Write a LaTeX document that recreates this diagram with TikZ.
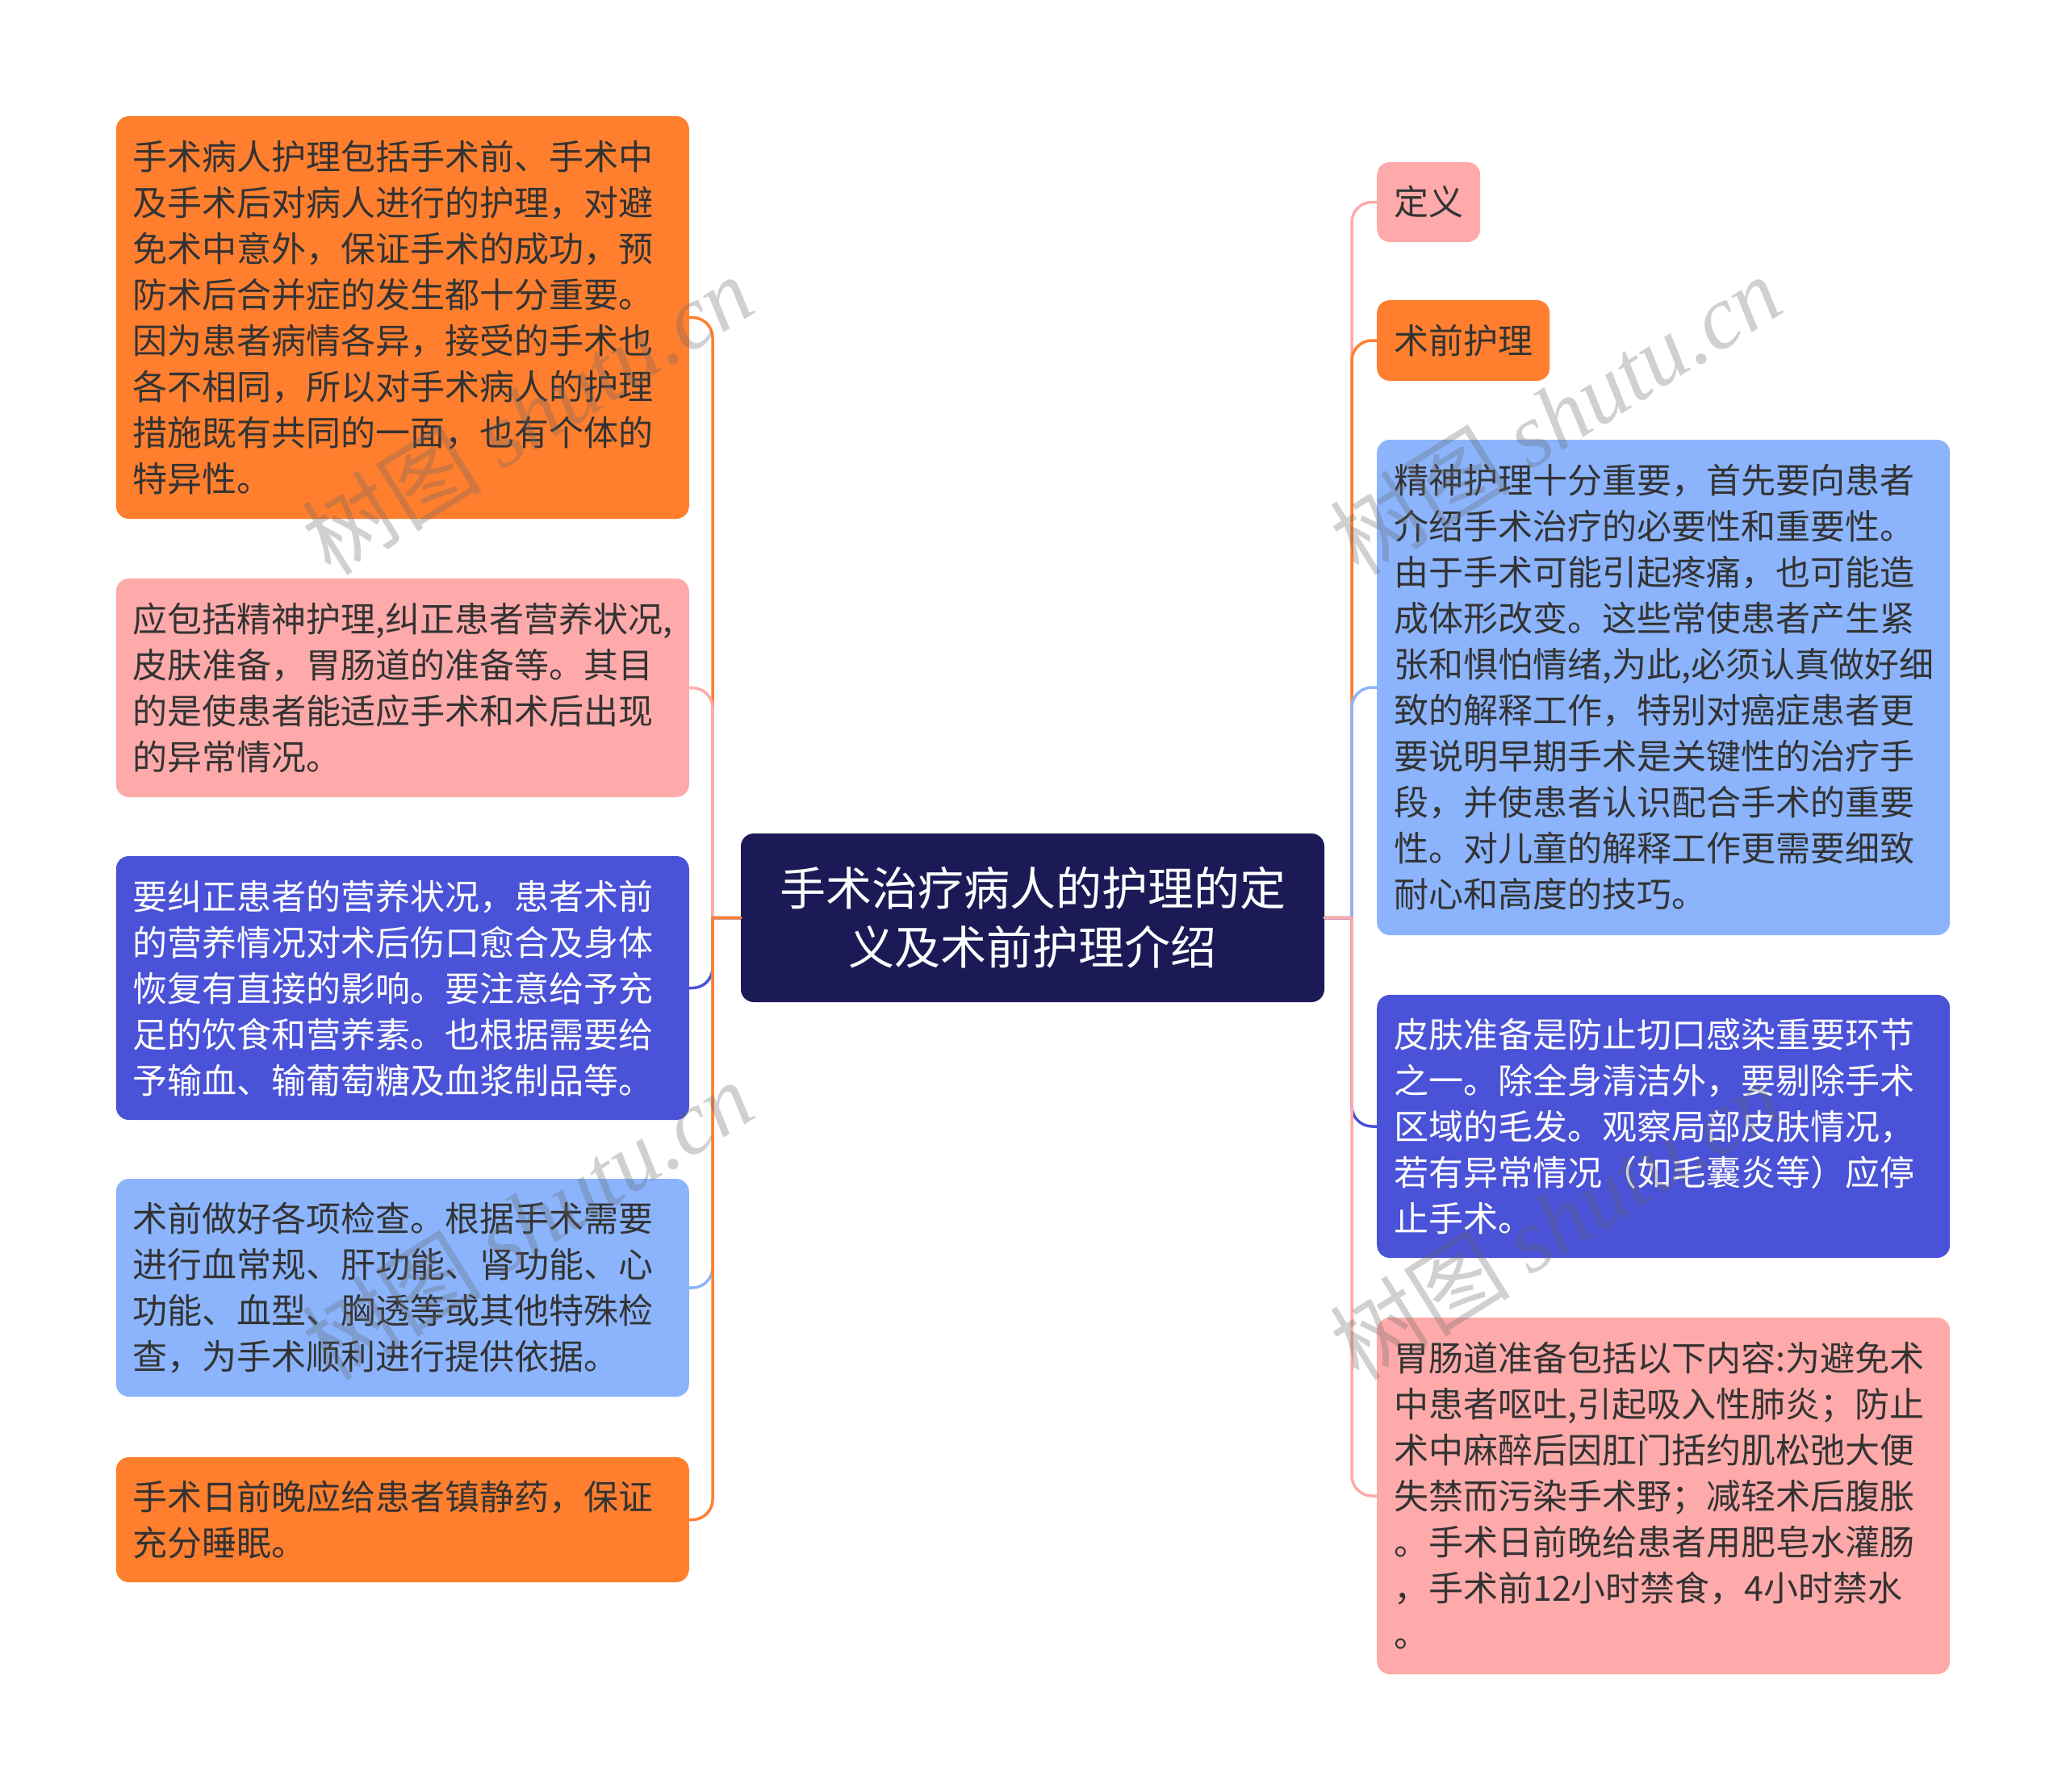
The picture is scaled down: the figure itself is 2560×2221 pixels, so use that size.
\documentclass[tikz,border=0pt]{standalone}
\usepackage{fontspec}
\setmainfont{Noto Sans CJK SC}
\newfontfamily\wmlatin{Liberation Serif}
\definecolor{cOrange}{HTML}{FF7F2F}
\definecolor{cPink}{HTML}{FFAAAA}
\definecolor{cPurple}{HTML}{4A52D8}
\definecolor{cLight}{HTML}{8BB4FC}
\definecolor{cNavy}{HTML}{1C1A56}
\definecolor{cText}{HTML}{333333}
\tikzset{
  leaf/.style={rounded corners=16pt, inner xsep=21pt, inner ysep=0pt, align=left,
    font=\fontsize{43pt}{57pt}\selectfont},
  lwidth/.style={text width=668pt, minimum height=#1},
  conn/.style={line width=3.5pt, line cap=round, rounded corners=25pt},
  wm/.style={text=black!60, text opacity=0.3, inner sep=0pt, rotate=32,
    font=\fontsize{112pt}{112pt}\selectfont}
}
\begin{document}
\begin{tikzpicture}[x=1pt,y=1pt]
\useasboundingbox (0,0) rectangle (2560,-2221);
\fill[white] (0,0) rectangle (2560,-2221);

% center
\node[rounded corners=16pt, fill=cNavy, text=white, align=center,
  minimum width=723pt, minimum height=209pt, inner sep=0pt,
  font=\fontsize{57pt}{73pt}\selectfont] (C) at (1279.5,-1137.5)
  {手术治疗病人的护理的定\\义及术前护理介绍};

% left nodes
\node[leaf, lwidth=499pt, fill=cOrange, text=cText, anchor=east] (L1) at (854,-393.5)
{手术病人护理包括手术前、手术中\\及手术后对病人进行的护理，对避\\免术中意外，保证手术的成功，预\\防术后合并症的发生都十分重要。\\因为患者病情各异，接受的手术也\\各不相同，所以对手术病人的护理\\措施既有共同的一面，也有个体的\\特异性。};
\node[leaf, lwidth=271pt, fill=cPink, text=cText, anchor=east] (L2) at (854,-852.5)
{应包括精神护理,纠正患者营养状况,\\皮肤准备，胃肠道的准备等。其目\\的是使患者能适应手术和术后出现\\的异常情况。};
\node[leaf, lwidth=327pt, fill=cPurple, text=white, anchor=east] (L3) at (854,-1224.5)
{要纠正患者的营养状况，患者术前\\的营养情况对术后伤口愈合及身体\\恢复有直接的影响。要注意给予充\\足的饮食和营养素。也根据需要给\\予输血、输葡萄糖及血浆制品等。};
\node[leaf, lwidth=270pt, fill=cLight, text=cText, anchor=east] (L4) at (854,-1596)
{术前做好各项检查。根据手术需要\\进行血常规、肝功能、肾功能、心\\功能、血型、胸透等或其他特殊检\\查，为手术顺利进行提供依据。};
\node[leaf, lwidth=155pt, fill=cOrange, text=cText, anchor=east] (L5) at (854,-1883.5)
{手术日前晚应给患者镇静药，保证\\充分睡眠。};

% right nodes
\node[leaf, minimum height=99pt, fill=cPink, text=cText, anchor=west] (R1) at (1706,-250.5) {定义};
\node[leaf, minimum height=100pt, fill=cOrange, text=cText, anchor=west] (R2) at (1706,-422) {术前护理};
\node[leaf, lwidth=614pt, fill=cLight, text=cText, anchor=west] (R3) at (1706,-852)
{精神护理十分重要，首先要向患者\\介绍手术治疗的必要性和重要性。\\由于手术可能引起疼痛，也可能造\\成体形改变。这些常使患者产生紧\\张和惧怕情绪,为此,必须认真做好细\\致的解释工作，特别对癌症患者更\\要说明早期手术是关键性的治疗手\\段，并使患者认识配合手术的重要\\性。对儿童的解释工作更需要细致\\耐心和高度的技巧。};
\node[leaf, lwidth=326pt, fill=cPurple, text=white, anchor=west] (R4) at (1706,-1396)
{皮肤准备是防止切口感染重要环节\\之一。除全身清洁外，要剔除手术\\区域的毛发。观察局部皮肤情况，\\若有异常情况（如毛囊炎等）应停\\止手术。};
\node[leaf, lwidth=442pt, fill=cPink, text=cText, anchor=west] (R5) at (1706,-1854)
{胃肠道准备包括以下内容:为避免术\\中患者呕吐,引起吸入性肺炎；防止\\术中麻醉后因肛门括约肌松弛大便\\失禁而污染手术野；减轻术后腹胀\\。手术日前晚给患者用肥皂水灌肠\\，手术前12小时禁食，4小时禁水\\。};

% trunks
\coordinate (LT) at (883,-1137.5);
\coordinate (RT) at (1675,-1137.5);

% left connectors
\draw[conn, cOrange] (C.west) -- (LT) (LT) -- (LT |- L1.east) -- (L1.east);
\draw[conn, cPink]   (C.west) -- (LT) (LT) -- (LT |- L2.east) -- (L2.east);
\draw[conn, cPurple] (C.west) -- (LT) (LT) -- (LT |- L3.east) -- (L3.east);
\draw[conn, cLight]  (C.west) -- (LT) (LT) -- (LT |- L4.east) -- (L4.east);
\draw[conn, cOrange] (C.west) -- (LT) (LT) -- (LT |- L5.east) -- (L5.east);

% right connectors
\draw[conn, cPink]   (C.east) -- (RT) (RT) -- (RT |- R1.west) -- (R1.west);
\draw[conn, cOrange] (C.east) -- (RT) (RT) -- (RT |- R2.west) -- (R2.west);
\draw[conn, cLight]  (C.east) -- (RT) (RT) -- (RT |- R3.west) -- (R3.west);
\draw[conn, cPurple] (C.east) -- (RT) (RT) -- (RT |- R4.west) -- (R4.west);
\draw[conn, cPink]   (C.east) -- (RT) (RT) -- (RT |- R5.west) -- (R5.west);

% watermarks
\node[wm] (W1) at (653,-514) {树图 {\wmlatin\itshape shutu.cn}};
\node[wm] (W2) at (653,-1512) {树图 {\wmlatin\itshape shutu.cn}};
\node[wm] (W3) at (1927,-514) {树图 {\wmlatin\itshape shutu.cn}};
\node[wm] (W4) at (1927,-1512) {树图 {\wmlatin\itshape shutu.cn}};
\end{tikzpicture}
\end{document}
